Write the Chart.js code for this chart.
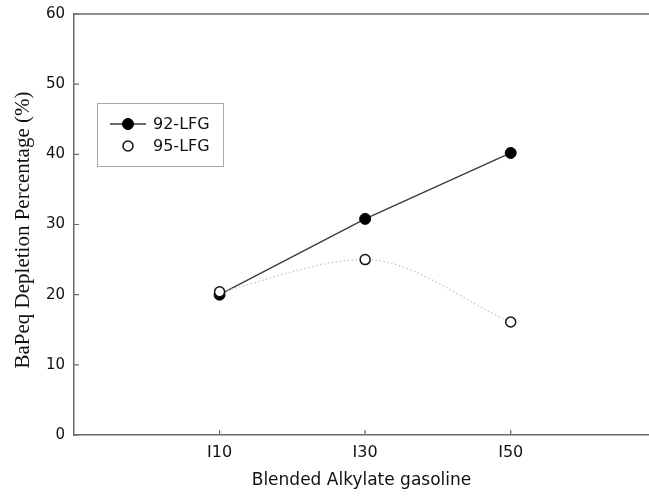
<!DOCTYPE html>
<html><head><meta charset="utf-8">
<script src="https://cdn.jsdelivr.net/npm/chart.js@4/dist/chart.umd.min.js"></script>
<style>html,body{margin:0;padding:0;background:#fff;overflow:hidden}</style>
</head><body>
<canvas id="c" width="649" height="499"></canvas>
<script>
// ---- data ----
const categories = ['I10', 'I30', 'I50'];
const categoryX = [10, 30, 50];          // blend level of each category
const seriesNames = ['92-LFG', '95-LFG'];
const lfg92 = [20.0, 30.8, 40.2];
const lfg95 = [20.4, 25.0, 16.1];
const yTickValues = [0, 10, 20, 30, 40, 50, 60];
const xTitle = 'Blended Alkylate gasoline';
const yTitle = 'BaPeq Depletion Percentage (%)';

const AXIS_COLOR = '#6a6a6a';
const SANS = "'DejaVu Sans', sans-serif";

const frame = {
  id: 'frame',
  beforeDatasetsDraw(chart) {
    const {ctx, chartArea: a, scales: {x, y}} = chart;
    ctx.save();
    ctx.strokeStyle = AXIS_COLOR;
    ctx.lineWidth = 1.5;
    ctx.beginPath();
    ctx.moveTo(a.left, a.top); ctx.lineTo(a.right, a.top);
    ctx.stroke();
    ctx.lineWidth = 1.2;
    ctx.beginPath();
    y.ticks.forEach(t => { const py = y.getPixelForValue(t.value); ctx.moveTo(a.left, py); ctx.lineTo(a.left + 5, py); });
    x.ticks.forEach(t => { const px = x.getPixelForValue(t.value); ctx.moveTo(px, a.bottom); ctx.lineTo(px, a.bottom - 5); });
    ctx.stroke();
    // y axis title
    ctx.save();
    ctx.translate(23, 230);
    ctx.rotate(-Math.PI / 2);
    ctx.fillStyle = '#111';
    ctx.font = "21px 'Liberation Serif', serif";
    ctx.textAlign = 'center';
    ctx.textBaseline = 'middle';
    ctx.fillText(yTitle, 0, 0);
    ctx.restore();
    ctx.restore();
  },
  afterDraw(chart) {
    const {ctx} = chart;
    ctx.save();
    ctx.strokeStyle = '#a8a8a8';
    ctx.lineWidth = 1;
    ctx.strokeRect(97.5, 103.5, 126, 63);
    const rows = [124, 146];
    chart.data.datasets.forEach((ds, i) => {
      const yy = rows[i];
      if (i === 0) {
        ctx.strokeStyle = ds.borderColor; ctx.lineWidth = ds.borderWidth;
        ctx.beginPath(); ctx.moveTo(110, yy); ctx.lineTo(146, yy); ctx.stroke();
      }
      ctx.beginPath();
      ctx.arc(128, yy, ds.pointRadius, 0, Math.PI * 2);
      ctx.fillStyle = ds.pointBackgroundColor; ctx.fill();
      ctx.strokeStyle = ds.pointBorderColor; ctx.lineWidth = ds.pointBorderWidth; ctx.stroke();
      ctx.fillStyle = '#111';
      ctx.font = "16px " + SANS;
      ctx.textBaseline = 'middle';
      ctx.textAlign = 'left';
      ctx.fillText(ds.label, 153, yy + 1);
    });
    ctx.restore();
  }
};

new Chart(document.getElementById('c'), {
  type: 'line',
  data: {
    datasets: [
      {
        label: seriesNames[0],
        data: categoryX.map((v, i) => ({x: v, y: lfg92[i]})),
        borderColor: '#3a3a3a', borderWidth: 1.3,
        pointRadius: 5.5, pointBackgroundColor: '#000', pointBorderColor: '#000', pointBorderWidth: 1,
        tension: 0, order: 1
      },
      {
        label: seriesNames[1],
        data: categoryX.map((v, i) => ({x: v, y: lfg95[i]})),
        borderColor: '#c4c4c4', borderWidth: 1.2, borderDash: [1.5, 2.5],
        cubicInterpolationMode: 'monotone',
        pointRadius: 5, pointBackgroundColor: '#fff', pointBorderColor: '#111', pointBorderWidth: 1.5,
        order: 0
      }
    ]
  },
  options: {
    responsive: false,
    devicePixelRatio: 1,
    animation: false,
    layout: {autoPadding: false, padding: {top: 14, right: 0, left: 0, bottom: 0}},
    plugins: {legend: {display: false}, tooltip: {enabled: false}},
    scales: {
      x: {
        type: 'linear', min: -10, max: 69,
        afterBuildTicks: s => { s.ticks = categoryX.map(v => ({value: v})); },
        afterFit: s => { s.height = 64; s.paddingLeft = 0; s.paddingRight = 0; },
        ticks: {
          callback: v => categories[categoryX.indexOf(v)] ?? '',
          color: '#111', font: {family: SANS, size: 16}, padding: 8, maxRotation: 0, autoSkip: false
        },
        grid: {display: false, drawTicks: false},
        border: {display: true, color: AXIS_COLOR, width: 1.5},
        title: {display: true, text: xTitle, color: '#111', font: {family: SANS, size: 17}, padding: {top: 0, bottom: 8}}
      },
      y: {
        min: 0, max: 60,
        afterBuildTicks: s => { s.ticks = yTickValues.map(v => ({value: v})); },
        afterFit: s => { s.width = 74; s.paddingTop = 0; s.paddingBottom = 0; },
        ticks: {color: '#111', font: {family: SANS, size: 15}, padding: 9},
        grid: {display: false, drawTicks: false},
        border: {display: true, color: AXIS_COLOR, width: 1.5},
        title: {display: false}
      }
    }
  },
  plugins: [frame]
});
</script>
</body></html>
